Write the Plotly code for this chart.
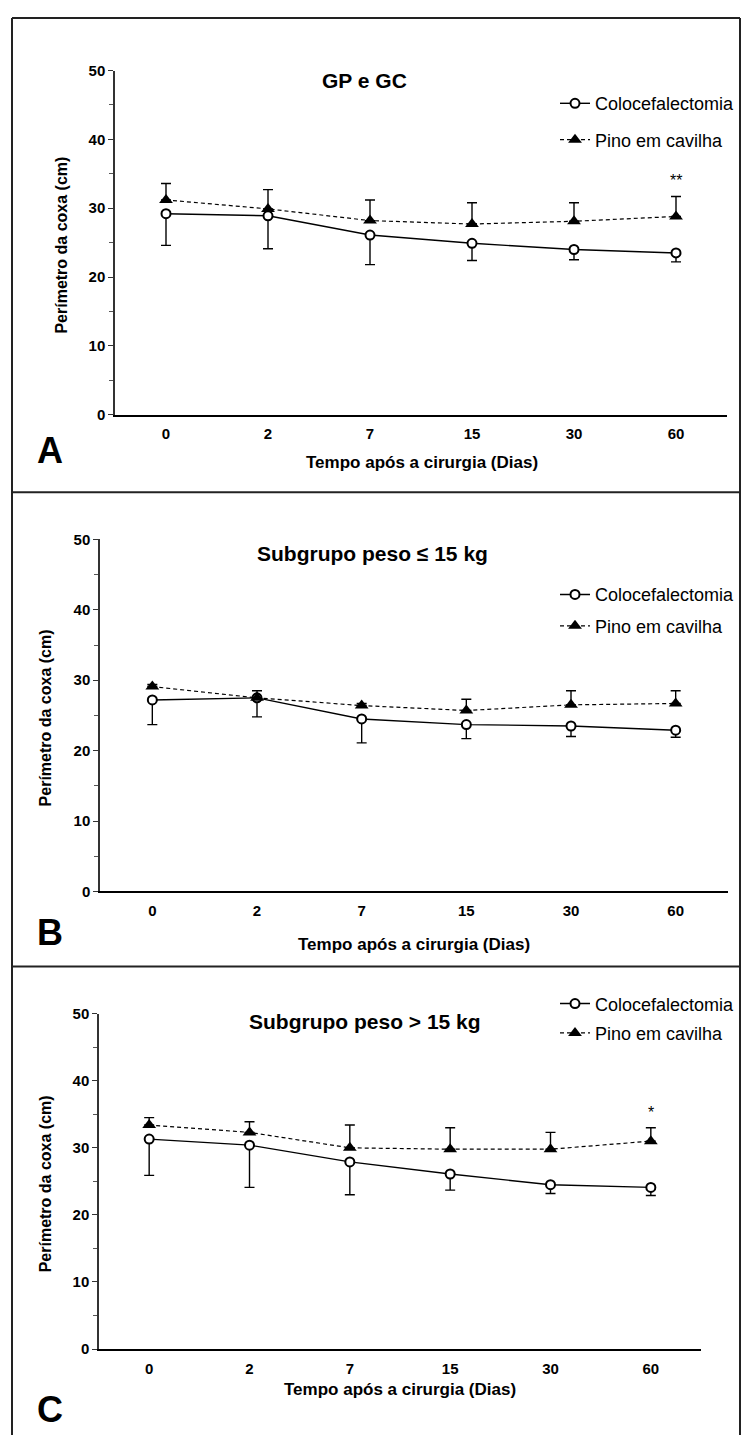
import plotly.graph_objects as go

W, H = 746, 1443

days = ["0", "2", "7", "15", "30", "60"]
series_names = ["Colocefalectomia", "Pino em cavilha"]

# Panel A - GP e GC
A_colo_mean = [29.2, 28.9, 26.1, 24.9, 24.0, 23.5]
A_colo_sd = [4.6, 4.8, 4.3, 2.5, 1.5, 1.3]
A_pino_mean = [31.2, 29.9, 28.2, 27.7, 28.1, 28.8]
A_pino_sd = [2.4, 2.8, 3.0, 3.1, 2.7, 2.9]
A_sig = ["", "", "", "", "", "**"]

# Panel B - Subgrupo peso <= 15 kg
B_colo_mean = [27.2, 27.5, 24.5, 23.7, 23.5, 22.9]
B_colo_sd = [3.5, 2.7, 3.4, 2.0, 1.5, 1.0]
B_pino_mean = [29.1, 27.5, 26.4, 25.7, 26.5, 26.7]
B_pino_sd = [0.3, 1.0, 0.3, 1.6, 2.0, 1.8]
B_sig = ["", "", "", "", "", ""]

# Panel C - Subgrupo peso > 15 kg
C_colo_mean = [31.3, 30.4, 27.9, 26.1, 24.5, 24.1]
C_colo_sd = [5.4, 6.3, 4.9, 2.4, 1.3, 1.2]
C_pino_mean = [33.4, 32.3, 30.0, 29.8, 29.8, 31.0]
C_pino_sd = [1.1, 1.6, 3.4, 3.2, 2.5, 2.0]
C_sig = ["", "", "", "", "", "*"]

titles = ["GP e GC", "Subgrupo peso ≤ 15 kg", "Subgrupo peso > 15 kg"]
letters = ["A", "B", "C"]
x_title = "Tempo após a cirurgia (Dias)"
y_title = "Perímetro da coxa (cm)"
y_ticks = [0, 10, 20, 30, 40, 50]

FONT = "Arial, Liberation Sans, sans-serif"

panels = [
    dict(x0=115, x1=727, ytop=62.3, ybot=410.5, title_xy=(364, 72),
         leg_x=555, leg_y=77, leg_gap=10, ylab_x=62, xlab_xy=(422, 459),
         letter_xy=(50, 447)),
    dict(x0=100, x1=728, ytop=536.7, ybot=893, title_xy=(372, 551),
         leg_x=555, leg_y=574, leg_gap=5, ylab_x=45, xlab_xy=(414, 947),
         letter_xy=(50, 935)),
    dict(x0=99, x1=701, ytop=1016.7, ybot=1356, title_xy=(365, 1025),
         leg_x=555, leg_y=988, leg_gap=3, ylab_x=45, xlab_xy=(400, 1397),
         letter_xy=(50, 1417)),
]

data = [
    (A_colo_mean, A_colo_sd, A_pino_mean, A_pino_sd, A_sig),
    (B_colo_mean, B_colo_sd, B_pino_mean, B_pino_sd, B_sig),
    (C_colo_mean, C_colo_sd, C_pino_mean, C_pino_sd, C_sig),
]

fig = go.Figure()
annotations = []
shapes = []

def px(x):
    return x / W

def py(y):
    return 1 - y / H

for i, (p, (cm, cs, pm, ps, sig)) in enumerate(zip(panels, data)):
    n = "" if i == 0 else str(i + 1)
    xa, ya = "x" + n, "y" + n
    leg = "legend" + n
    zeros = [0] * len(days)
    fig.add_trace(go.Scatter(
        x=days, y=cm, mode="lines+markers", name=series_names[0],
        xaxis=xa, yaxis=ya, legend=leg, legendgroup=f"c{i}",
        line=dict(color="black", width=1.4),
        marker=dict(symbol="circle", size=9, color="white",
                    line=dict(color="black", width=2)),
        error_y=dict(type="data", symmetric=False, array=zeros, arrayminus=cs,
                     color="black", thickness=1.4, width=5),
    ))
    fig.add_trace(go.Scatter(
        x=days, y=pm, mode="lines+markers", name=series_names[1],
        xaxis=xa, yaxis=ya, legend=leg, legendgroup=f"p{i}",
        line=dict(color="black", width=1.2, dash="4px,3px"),
        marker=dict(symbol="triangle-up", size=12, color="black",
                    line=dict(color="black", width=0)),
        error_y=dict(type="data", symmetric=False, array=ps, arrayminus=zeros,
                     color="black", thickness=1.4, width=5),
    ))
    for k, (m, s, t) in enumerate(zip(pm, ps, sig)):
        if t:
            # category axes: annotation x is the category's serial index
            annotations.append(dict(x=k, y=m + s + 2.3, xref=xa, yref=ya,
                                    text=t, showarrow=False,
                                    font=dict(family=FONT, size=16, color="black")))

    fig.update_layout(**{
        "xaxis" + n: dict(
            domain=[px(p["x0"]), px(p["x1"])], anchor=ya, type="category",
            range=[-0.5, 5.5], showline=True, linecolor="black", linewidth=1.5,
            ticks="outside", ticklen=5, tickcolor="rgba(0,0,0,0)",
            showgrid=False, zeroline=False,
            tickfont=dict(family=FONT, size=15, color="black", weight="bold"),
            fixedrange=True),
        "yaxis" + n: dict(
            domain=[py(p["ybot"]), py(p["ytop"])], anchor=xa,
            range=[0, 50], tickvals=y_ticks, showline=True, linecolor="#333",
            linewidth=1.5, ticks="outside", ticklen=5, tickwidth=1.3,
            tickcolor="#333", showgrid=False, zeroline=False,
            tickfont=dict(family=FONT, size=15, color="black", weight="bold"),
            minor=dict(dtick=5, ticks="outside", ticklen=4, tickwidth=1.2,
                       tickcolor="#555", showgrid=False),
            fixedrange=True),
        leg: dict(
            x=px(p["leg_x"]), y=py(p["leg_y"]), xanchor="left", yanchor="top",
            bgcolor="rgba(0,0,0,0)", borderwidth=0, traceorder="grouped",
            tracegroupgap=p["leg_gap"],
            font=dict(family=FONT, size=18, color="black")),
    })

    annotations.append(dict(x=px(p["title_xy"][0]), y=py(p["title_xy"][1]),
                            xref="paper", yref="paper", text=titles[i],
                            showarrow=False, xanchor="center", yanchor="middle",
                            font=dict(family=FONT, size=21, color="black", weight="bold")))
    annotations.append(dict(x=px(p["xlab_xy"][0]), y=py(p["xlab_xy"][1]),
                            xref="paper", yref="paper", text=x_title,
                            showarrow=False, xanchor="center", yanchor="middle",
                            font=dict(family=FONT, size=17, color="black", weight="bold")))
    annotations.append(dict(x=px(p["ylab_x"]), y=py((p["ytop"] + p["ybot"]) / 2 + 3),
                            xref="paper", yref="paper", text=y_title, textangle=-90,
                            showarrow=False, xanchor="center", yanchor="middle",
                            font=dict(family=FONT, size=16, color="black", weight="bold")))
    annotations.append(dict(x=px(p["letter_xy"][0]), y=py(p["letter_xy"][1]),
                            xref="paper", yref="paper", text=letters[i],
                            showarrow=False, xanchor="center", yanchor="middle",
                            font=dict(family=FONT, size=36, color="black", weight="bold")))

bc = "#222"
for (x0, y0, x1, y1) in [(12, 9, 740, 9), (12, 9, 12, H), (740, 9, 740, H),
                         (12, 489, 740, 489), (12, 969, 740, 969)]:
    shapes.append(dict(type="line", xref="paper", yref="paper",
                       x0=px(x0), y0=py(y0), x1=px(x1), y1=py(y1),
                       line=dict(color=bc, width=2)))

fig.update_layout(
    width=W, height=H, margin=dict(l=0, r=0, t=0, b=0),
    paper_bgcolor="white", plot_bgcolor="white",
    showlegend=True, annotations=annotations, shapes=shapes,
)

fig.write_html("out.html", config={"displayModeBar": False},
               post_script="document.body.style.margin='0';document.body.style.overflow='hidden';")
